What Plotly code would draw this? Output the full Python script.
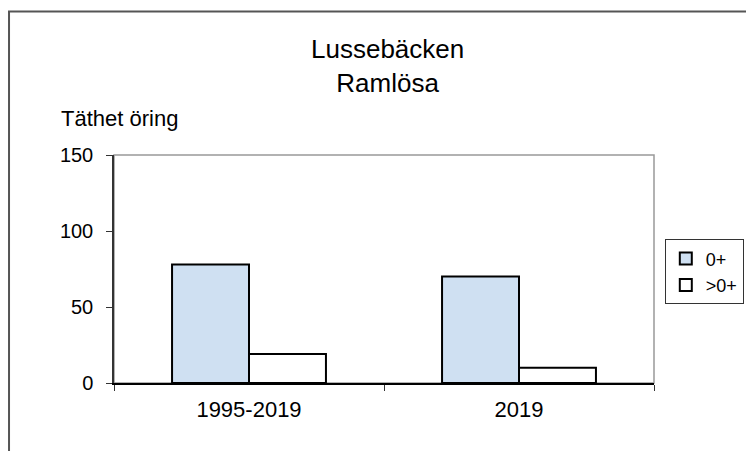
import plotly.graph_objects as go

categories = ["1995-2019", "2019"]
series_names = ["0+", ">0+"]
values_0 = [78, 70]
values_gt0 = [19, 10]
y_ticks = [0, 50, 100, 150]

FONT = "Liberation Sans, Arial, sans-serif"

fig = go.Figure()
fig.add_trace(go.Bar(x=categories, y=values_0, name=series_names[0],
                     marker=dict(color="#CFE0F2", line=dict(color="black", width=2))))
fig.add_trace(go.Bar(x=categories, y=values_gt0, name=series_names[1],
                     marker=dict(color="white", line=dict(color="black", width=2))))

fig.update_layout(
    width=754, height=451,
    margin=dict(l=106, r=108, t=147, b=76, autoexpand=False),
    paper_bgcolor="white", plot_bgcolor="white",
    barmode="group", bargap=0.43, bargroupgap=0,
    font=dict(family=FONT, color="black", size=20),
    showlegend=True,
    legend=dict(x=1.02, y=0.63, xanchor="left", yanchor="top",
                bordercolor="#333333", borderwidth=1, bgcolor="white",
                font=dict(size=18, family=FONT), tracegroupgap=2,
                itemwidth=30),
    xaxis=dict(type="category", showline=True, linecolor="black", linewidth=2,
               ticks="outside", tickson="boundaries", ticklen=6, tickcolor="#333333",
               tickfont=dict(size=22), ticklabelstandoff=6, showgrid=False),
    yaxis=dict(range=[0, 150], tickvals=y_ticks, showline=True, linecolor="#333333",
               linewidth=1.5, ticks="outside", ticklen=6, tickcolor="#333333",
               tickfont=dict(size=20), ticklabelstandoff=9, showgrid=False, zeroline=False),
    shapes=[
        dict(type="rect", xref="paper", yref="paper", x0=0, x1=1, y0=0, y1=1,
             line=dict(color="#999999", width=1.5), layer="below"),
        dict(type="rect", xref="paper", yref="paper", x0=-0.1944, x1=1.3, y0=-0.4, y1=1.629,
             line=dict(color="#555555", width=2), layer="below"),
    ],
    annotations=[
        dict(text="Lussebäcken<br>Ramlösa", xref="paper", yref="paper",
             x=0.507, y=1.39, xanchor="center", yanchor="middle", showarrow=False,
             font=dict(size=26, family=FONT)),
        dict(text="Täthet öring", xref="paper", yref="paper",
             x=-0.102, y=1.16, xanchor="left", yanchor="middle", showarrow=False,
             font=dict(size=22, family=FONT)),
    ],
)

fig.write_html("out.html")
